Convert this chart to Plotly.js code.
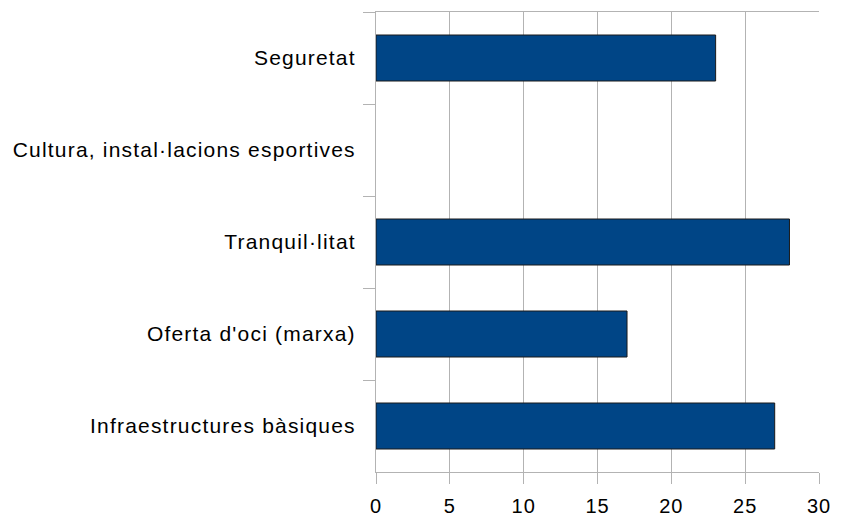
<!DOCTYPE html>
<html>
<head>
<meta charset="utf-8">
<script src="https://cdn.plot.ly/plotly-3.0.1.min.js"></script>
<style>
html,body{margin:0;padding:0;background:#fff;}
#chart{width:845px;height:516px;}
#chart .ytick text{letter-spacing:1.2px;}
#chart .xtick text{letter-spacing:1px;}
</style>
</head>
<body>
<div id="chart"></div>
<script>
const categories = ["Seguretat", "Cultura, instal·lacions esportives", "Tranquil·litat", "Oferta d'oci (marxa)", "Infraestructures bàsiques"];
const values = [23, 0, 28, 17, 27];
const xTicks = [0, 5, 10, 15, 20, 25, 30];

const trace = {
  type: 'bar',
  orientation: 'h',
  y: categories,
  x: values,
  marker: {color: '#004586', line: {color: '#1a1a1a', width: values.map(v => v === 0 ? 0 : 1)}},
  hoverinfo: 'skip'
};

const layout = {
  width: 845, height: 516,
  margin: {l: 376, r: 26, t: 12, b: 44},
  paper_bgcolor: '#ffffff', plot_bgcolor: '#ffffff',
  showlegend: false,
  bargap: 0.5,
  font: {family: 'Liberation Sans, Arial, sans-serif', size: 20, color: '#000'},
  xaxis: {
    range: [0, 30], tickvals: xTicks, ticktext: xTicks.map(String),
    showgrid: true, gridcolor: '#b3b3b3', gridwidth: 1,
    showline: true, linecolor: '#b3b3b3', linewidth: 1, mirror: true,
    ticks: 'outside', ticklen: 11, tickcolor: '#b3b3b3', tickwidth: 1,
    zeroline: false, fixedrange: true, ticklabelstandoff: 5
  },
  yaxis: {
    type: 'category', autorange: 'reversed',
    tickson: 'boundaries', ticks: 'outside', ticklen: 12, tickcolor: '#b3b3b3', tickwidth: 1,
    showgrid: false, showline: true, linecolor: '#b3b3b3', linewidth: 1,
    zeroline: false, fixedrange: true, ticklabelstandoff: 15,
    tickfont: {size: 21}
  }
};

Plotly.newPlot('chart', [trace], layout, {staticPlot: true, displayModeBar: false});
</script>
</body>
</html>
